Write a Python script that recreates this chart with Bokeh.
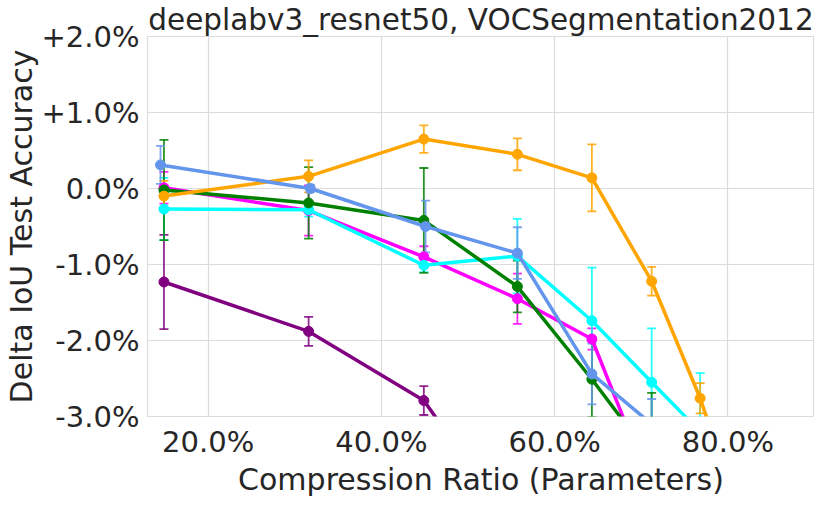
from bokeh.plotting import figure
from bokeh.models import ColumnDataSource, Whisker, TeeHead, FixedTicker, Range1d
from bokeh.embed import file_html
from bokeh.resources import INLINE

title_text = "deeplabv3_resnet50, VOCSegmentation2012"
x_label = "Compression Ratio (Parameters)"
y_label = "Delta IoU Test Accuracy"
x_ticks = [20, 40, 60, 80]
x_tick_labels = ["20.0%", "40.0%", "60.0%", "80.0%"]
y_ticks = [2, 1, 0, -1, -2, -3]
y_tick_labels = ["+2.0%", "+1.0%", "0.0%", "-1.0%", "-2.0%", "-3.0%"]

purple_x = [14.9, 31.6, 44.9, 55.7]
purple_y = [-1.23, -1.88, -2.79, -4.53]
purple_err = [0.62, 0.19, 0.19, 0.30]

magenta_x = [14.9, 31.6, 44.9, 55.7, 64.3, 71.2]
magenta_y = [0.01, -0.29, -0.90, -1.45, -1.98, -3.95]
magenta_err = [0.21, 0.33, 0.14, 0.33, 0.14, 0.30]

cyan_x = [14.9, 31.6, 44.9, 55.7, 64.3, 71.2, 76.8, 82.0]
cyan_y = [-0.27, -0.28, -1.01, -0.89, -1.74, -2.55, -3.20, -4.20]
cyan_err = [0.41, 0.09, 0.09, 0.49, 0.70, 0.71, 0.77, 0.50]

green_x = [14.9, 31.6, 44.9, 55.7, 64.3, 71.2]
green_y = [-0.02, -0.19, -0.42, -1.29, -2.51, -3.55]
green_err = [0.66, 0.47, 0.69, 0.34, 0.50, 0.86]

orange_x = [14.9, 31.6, 44.9, 55.7, 64.3, 71.2, 76.8, 82.0]
orange_y = [-0.10, 0.16, 0.65, 0.45, 0.14, -1.22, -2.76, -4.50]
orange_err = [0.20, 0.21, 0.18, 0.21, 0.44, 0.19, 0.20, 0.20]

blue_x = [14.5, 31.8, 45.1, 55.7, 64.3, 71.2, 76.8]
blue_y = [0.31, 0.00, -0.50, -0.85, -2.44, -3.10, -4.00]
blue_err = [0.25, 0.05, 0.34, 0.34, 0.40, 0.33, 0.30]

series = [
    ("purple", purple_x, purple_y, purple_err),
    ("magenta", magenta_x, magenta_y, magenta_err),
    ("cyan", cyan_x, cyan_y, cyan_err),
    ("green", green_x, green_y, green_err),
    ("orange", orange_x, orange_y, orange_err),
    ("cornflowerblue", blue_x, blue_y, blue_err),
]

FONT = "DejaVu Sans"
TXT = "#262626"
GRID = "#dcdcdc"

p = figure(width=814, height=499, output_backend="svg", toolbar_location=None,
           x_range=Range1d(13, 90), y_range=Range1d(-3, 2),
           min_border_left=137, min_border_right=0, min_border_top=31,
           min_border_bottom=79, background_fill_color="white",
           border_fill_color="white")

p.title.text = title_text
p.title.align = "center"
p.title.text_font = FONT
p.title.text_font_size = "29.5px"
p.title.text_font_style = "normal"
p.title.text_color = TXT
p.title.standoff = 0
p.title.offset = 0

p.outline_line_color = GRID
p.outline_line_width = 1.2

for ax in (p.xaxis[0], p.yaxis[0]):
    ax.major_tick_out = 0
    ax.major_tick_in = 0
    ax.minor_tick_out = 0
    ax.minor_tick_in = 0
    ax.axis_line_color = None
    ax.major_label_text_font = FONT
    ax.major_label_text_font_size = "29px"
    ax.major_label_text_color = TXT
    ax.axis_label_text_font = FONT
    ax.axis_label_text_font_size = "30px"
    ax.axis_label_text_font_style = "normal"
    ax.axis_label_text_color = TXT

p.xaxis.ticker = FixedTicker(ticks=x_ticks)
p.xaxis.major_label_overrides = dict(zip(x_ticks, x_tick_labels))
p.yaxis.ticker = FixedTicker(ticks=y_ticks)
p.yaxis.major_label_overrides = dict(zip(y_ticks, y_tick_labels))
p.xaxis.axis_label = x_label
p.yaxis.axis_label = y_label
p.xaxis.major_label_standoff = 8
p.yaxis.major_label_standoff = 8
p.xaxis.axis_label_standoff = 0
p.yaxis.axis_label_standoff = 0

p.xgrid.grid_line_color = GRID
p.ygrid.grid_line_color = GRID
p.xgrid.grid_line_width = 1.2
p.ygrid.grid_line_width = 1.2

for color, xs, ys, es in series:
    src = ColumnDataSource(dict(
        x=xs, y=ys,
        upper=[y + e for y, e in zip(ys, es)],
        lower=[y - e for y, e in zip(ys, es)],
    ))
    p.line("x", "y", source=src, line_color=color, line_width=3.5)
    w = Whisker(source=src, base="x", upper="upper", lower="lower",
                line_color=color, line_alpha=0.85, line_width=1.8,
                upper_head=TeeHead(size=9, line_color=color, line_alpha=0.85, line_width=1.8),
                lower_head=TeeHead(size=9, line_color=color, line_alpha=0.85, line_width=1.8))
    p.add_layout(w)
    p.scatter("x", "y", source=src, size=10, fill_color=color, line_color=color)

open("out.html", "w").write(file_html(p, INLINE))
